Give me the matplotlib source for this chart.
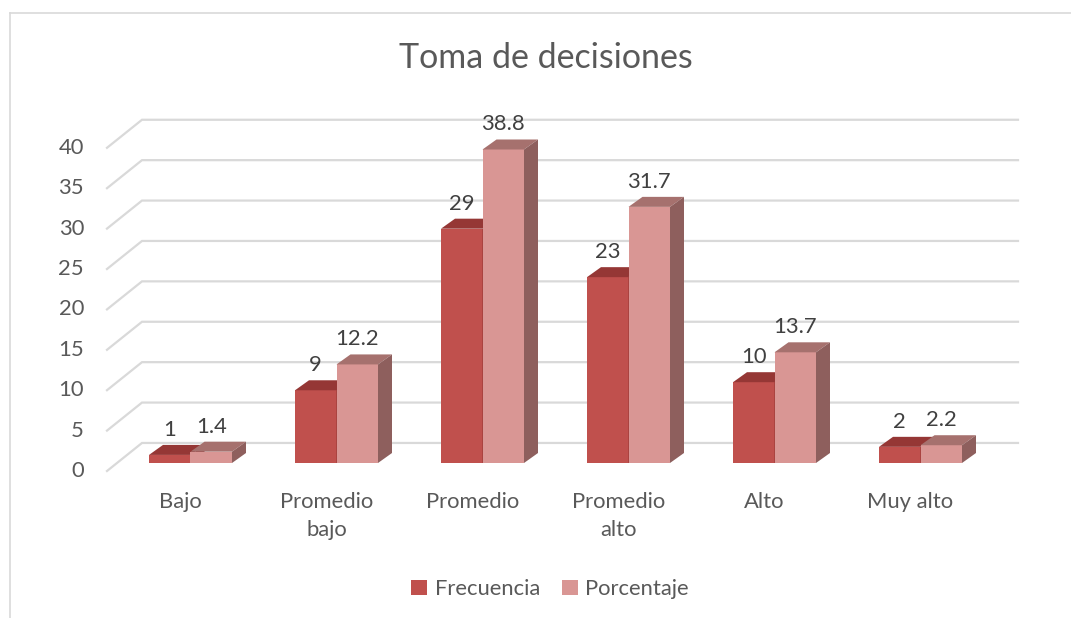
import matplotlib.pyplot as plt
from matplotlib.patches import Polygon, Patch
from matplotlib.lines import Line2D

plt.rcParams['font.family'] = ['Lato', 'DejaVu Sans']

# data
categorias = ['Bajo', 'Promedio\nbajo', 'Promedio', 'Promedio\nalto', 'Alto', 'Muy alto']
frecuencia = [1, 9, 29, 23, 10, 2]
porcentaje = [1.4, 12.2, 38.8, 31.7, 13.7, 2.2]
ticks = [0, 5, 10, 15, 20, 25, 30, 35, 40]
titulo = 'Toma de decisiones'

# colours
c_fre = '#C0504D'
c_fre_top = '#953735'
c_por = '#D99694'
c_por_top = '#A6716E'
c_por_side = '#8E5F5D'
c_grid = '#D9D9D9'
c_text = '#595959'
c_lab = '#404040'

# px -> data scale (146 px per category, 8.08 px per unit)
PX_X = 146.0
PX_Y = 8.08
W = 41.5 / PX_X            # bar width
DDX = 14 / PX_X            # bar depth offset
DDY = 10 / PX_Y
FS = 15.8

fig = plt.figure(figsize=(10.71, 6.18), dpi=100)
ax = fig.add_axes([0, 0, 1, 1])
ax.set_xlim(-190.5 / PX_X, (1071 - 190.5) / PX_X)
ax.set_ylim((463 - 618) / PX_Y, 463 / PX_Y)
ax.axis('off')

# chart frame (partly cropped)
fig.add_artist(Line2D([10 / 1071, 10 / 1071], [0, 1 - 13 / 618], color=c_grid, lw=1.2))
fig.add_artist(Line2D([10 / 1071, 1], [1 - 13 / 618, 1 - 13 / 618], color=c_grid, lw=1.2))

# back wall gridlines + side wall diagonals
x_front = (107 - 190.5) / PX_X
x_back = (142 - 190.5) / PX_X
x_end = (1018 - 190.5) / PX_X
for t in ticks:
    ax.plot([x_front, x_back, x_end], [t - 0.99, t + 2.48, t + 2.48],
            color=c_grid, lw=1.6, solid_joinstyle='miter', zorder=1)
    ax.text(x_front - 23 / PX_X, t - 0.99, str(t), ha='right', va='center',
            fontsize=FS, color=c_text)


def barra(x0, h, front, top, side):
    x1 = x0 + W
    ax.add_patch(Polygon([(x0, 0), (x1, 0), (x1, h), (x0, h)], closed=True,
                         facecolor=front, edgecolor='none', zorder=3))
    ax.add_patch(Polygon([(x0, h), (x1, h), (x1 + DDX, h + DDY), (x0 + DDX, h + DDY)],
                         closed=True, facecolor=top, edgecolor='none', zorder=3))
    ax.add_patch(Polygon([(x1, 0), (x1 + DDX, DDY), (x1 + DDX, h + DDY), (x1, h)],
                         closed=True, facecolor=side, edgecolor='none', zorder=3))


for i, (f, p) in enumerate(zip(frecuencia, porcentaje)):
    barra(i - W, f, c_fre, c_fre_top, c_fre_top)
    barra(i, p, c_por, c_por_top, c_por_side)
    ax.text(i - W / 2, f + DDY + 15 / PX_Y, f'{f:g}', ha='center', va='center',
            fontsize=FS, color=c_lab, zorder=4)
    ax.text(i + W / 2, p + DDY + 15 / PX_Y, f'{p:g}', ha='center', va='center',
            fontsize=FS, color=c_lab, zorder=4)
    ax.text(i - 10 / PX_X, -3.55, categorias[i], ha='center', va='top',
            fontsize=FS, color=c_text, linespacing=1.5)

fig.text(546 / 1071, 1 - 58 / 618, titulo, ha='center', va='center',
         fontsize=24.5, color=c_text)

handles = [Patch(facecolor=c_fre, edgecolor='none'), Patch(facecolor=c_por, edgecolor='none')]
fig.legend(handles, ['Frecuencia', 'Porcentaje'], loc='center',
           bbox_to_anchor=(550 / 1071, 1 - 589 / 618), ncol=2, frameon=False,
           fontsize=FS, labelcolor=c_text, handlelength=0.72, handleheight=0.72,
           handletextpad=0.35, columnspacing=1.0)

fig.savefig('out.png', dpi=100)
